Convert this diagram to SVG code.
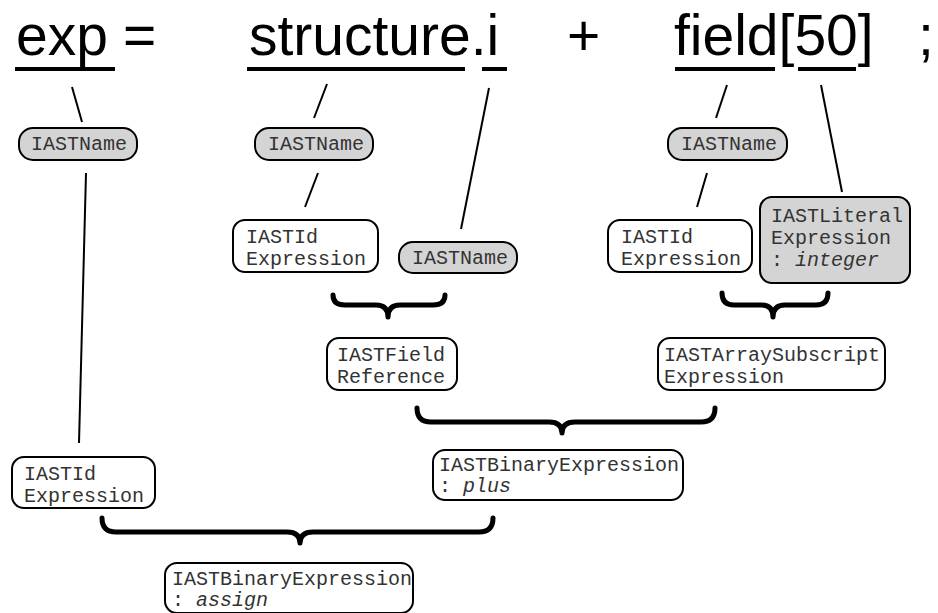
<svg xmlns="http://www.w3.org/2000/svg" width="938" height="613" viewBox="0 0 938 613">
<style>
.src{font-family:"Liberation Sans",Arial,sans-serif;font-size:57px;fill:#000}
.ul{stroke:#000;stroke-width:4;fill:none}
.ln{stroke:#000;stroke-width:2;fill:none}
.br{stroke:#000;stroke-width:5;fill:none;stroke-linecap:round;stroke-linejoin:round}
.box{fill:#fff;stroke:#000;stroke-width:2}
.gbox{fill:#d4d4d4;stroke:#000;stroke-width:2}
.t{font-family:"Liberation Mono","Courier New",monospace;font-size:20px;fill:#333}
.i{font-style:italic}
</style>
<rect width="938" height="613" fill="#fff"/>
<g id="source">
<text class="src" x="16" y="55">exp</text>
<text class="src" x="123" y="55">=</text>
<text class="src" x="249" y="55">structure.i</text>
<text class="src" x="567" y="55">+</text>
<text class="src" x="674" y="55">field[50]</text>
<text class="src" x="918" y="55">;</text>
<line class="ul" x1="15" y1="69" x2="115" y2="69"/>
<line class="ul" x1="247" y1="69" x2="465" y2="69"/>
<line class="ul" x1="482" y1="69" x2="507" y2="69"/>
<line class="ul" x1="675" y1="69" x2="775" y2="69"/>
<line class="ul" x1="798" y1="69" x2="856" y2="69"/>
</g>
<g id="connectors">
<line class="ln" x1="72" y1="87" x2="82" y2="122"/>
<line class="ln" x1="86" y1="173" x2="79" y2="443"/>
<line class="ln" x1="327" y1="84" x2="314" y2="118"/>
<line class="ln" x1="318" y1="173" x2="305" y2="207"/>
<line class="ln" x1="489" y1="88" x2="461" y2="229"/>
<line class="ln" x1="727" y1="85" x2="716" y2="118"/>
<line class="ln" x1="707" y1="173" x2="697" y2="207"/>
<line class="ln" x1="821" y1="85" x2="842" y2="192"/>
<path class="br" d="M333 295 Q333 305 345 305 L376 305 Q388 305 388 317 Q388 305 400 305 L433 305 Q445 305 445 295"/>
<path class="br" d="M722 293 Q722 305 734 305 L761 305 Q773 305 773 317 Q773 305 785 305 L816 305 Q828 305 828 293"/>
<path class="br" d="M417 408 Q417 422 431 422 L549 422 Q562 422 562 433 Q562 422 575 422 L701 422 Q715 422 715 408"/>
<path class="br" d="M102 518 Q102 532 116 532 L287 532 Q300 532 300 543 Q300 532 313 532 L479 532 Q493 532 493 518"/>
</g>
<g id="n-name-exp">
<rect class="gbox" x="19" y="128" width="118" height="32" rx="14"/>
<text class="t" x="31" y="150">IASTName</text>
</g>
<g id="n-name-structure">
<rect class="gbox" x="255" y="128" width="118" height="32" rx="14"/>
<text class="t" x="268" y="150">IASTName</text>
</g>
<g id="n-name-field">
<rect class="gbox" x="668" y="128" width="119" height="32" rx="14"/>
<text class="t" x="681" y="150">IASTName</text>
</g>
<g id="n-idexpr-structure">
<rect class="box" x="233" y="220" width="145" height="52" rx="12"/>
<text class="t" x="246" y="243">IASTId</text>
<text class="t" x="246" y="265">Expression</text>
</g>
<g id="n-name-i">
<rect class="gbox" x="399" y="242" width="118" height="31" rx="14"/>
<text class="t" x="412" y="264">IASTName</text>
</g>
<g id="n-idexpr-field">
<rect class="box" x="608" y="220" width="144" height="52" rx="12"/>
<text class="t" x="621" y="243">IASTId</text>
<text class="t" x="621" y="265">Expression</text>
</g>
<g id="n-literal">
<rect class="gbox" x="760" y="197" width="150" height="86" rx="12"/>
<text class="t" x="771" y="222">IASTLiteral</text>
<text class="t" x="771" y="244">Expression</text>
<text class="t" x="771" y="266">: <tspan class="i">integer</tspan></text>
</g>
<g id="n-fieldref">
<rect class="box" x="327" y="338" width="130" height="52" rx="12"/>
<text class="t" x="337" y="361">IASTField</text>
<text class="t" x="337" y="383">Reference</text>
</g>
<g id="n-arraysub">
<rect class="box" x="658" y="338" width="227" height="52" rx="12"/>
<text class="t" x="664" y="361">IASTArraySubscript</text>
<text class="t" x="664" y="383">Expression</text>
</g>
<g id="n-idexpr-exp">
<rect class="box" x="12" y="457" width="143" height="51" rx="12"/>
<text class="t" x="24" y="480">IASTId</text>
<text class="t" x="24" y="502">Expression</text>
</g>
<g id="n-binary-plus">
<rect class="box" x="433" y="450" width="250" height="50" rx="12"/>
<text class="t" x="439" y="471">IASTBinaryExpression</text>
<text class="t" x="439" y="492">: <tspan class="i">plus</tspan></text>
</g>
<g id="n-binary-assign">
<rect class="box" x="165" y="563" width="248" height="50" rx="12"/>
<text class="t" x="172" y="585">IASTBinaryExpression</text>
<text class="t" x="172" y="606">: <tspan class="i">assign</tspan></text>
</g>
</svg>
